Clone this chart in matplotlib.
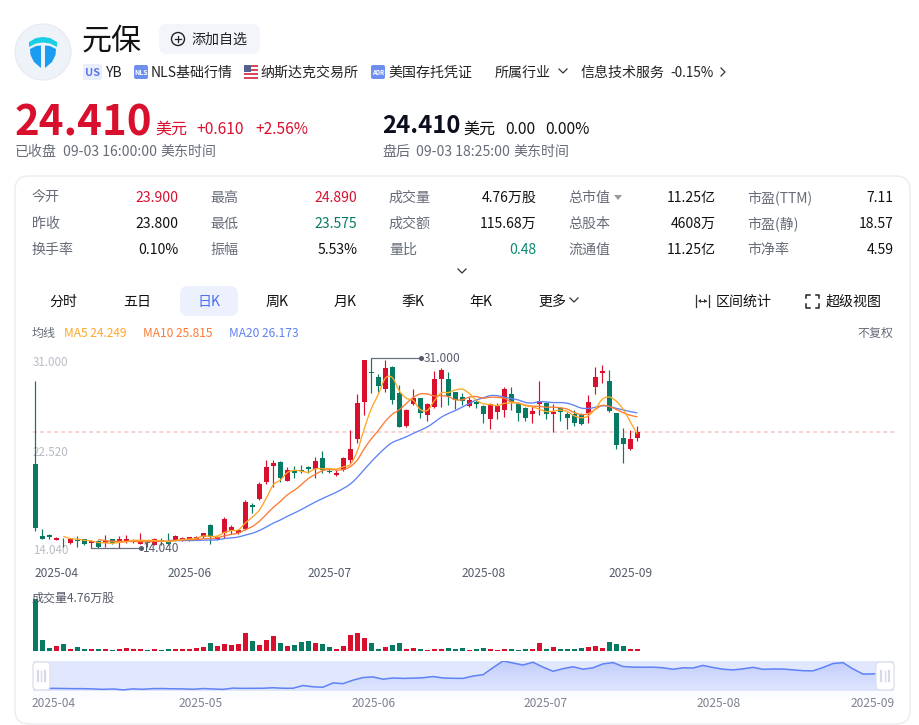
import numpy as np
import pandas as pd
import matplotlib
matplotlib.use("Agg")
import matplotlib.pyplot as plt
from matplotlib.patches import FancyBboxPatch, Circle, Polygon, Rectangle, PathPatch
from matplotlib.path import Path

plt.rcParams["font.family"] = ["Noto Sans CJK SC", "DejaVu Sans"]

RED = "#d90f2e"
GREEN = "#067a63"
MA5_COLOR = "#ffa726"
MA10_COLOR = "#ff7a33"
MA20_COLOR = "#5f82f5"
GRAY = "#666c78"
AXIS_GRAY = "#b9bcc6"

# daily candles
opens = [21.51, 15.11, 15.17, 14.75, 14.87, 14.49, 14.75, 14.82, 14.49, 14.64, 14.46, 14.82, 14.55, 14.69, 14.60,
         14.42, 14.55, 14.33, 14.75, 14.69, 14.73, 14.73, 14.75, 14.78, 15.02, 16.12, 14.82, 15.38, 15.56, 15.35,
         15.74, 17.88, 18.42, 19.90, 21.39, 21.75, 20.05, 20.89, 20.98, 21.27, 21.07, 22.08, 20.92, 20.59, 20.98,
         21.93, 23.77, 27.05, 29.76, 29.28, 28.24, 30.23, 27.91, 24.93, 26.90, 27.40, 25.95, 26.60, 29.13, 29.13,
         27.94, 27.55, 26.75, 27.11, 26.75, 25.56, 26.21, 26.36, 27.79, 26.90, 26.57, 25.98, 26.93, 26.96, 26.04,
         26.57, 25.98, 25.98, 25.92, 26.07, 28.45, 29.70, 28.92, 26.07, 23.86, 22.88, 23.90]
closes = [15.85, 14.87, 14.99, 14.91, 14.82, 14.82, 14.66, 14.42, 14.64, 14.10, 14.69, 14.46, 14.84, 14.87, 14.73,
          14.69, 14.46, 14.87, 14.64, 14.40, 15.14, 14.96, 15.02, 15.05, 15.35, 15.05, 15.05, 16.63, 15.89, 15.65,
          18.12, 17.70, 19.73, 21.24, 21.60, 20.29, 20.98, 20.74, 20.89, 21.12, 21.81, 21.01, 20.80, 20.74, 22.11,
          22.88, 26.96, 30.80, 29.64, 28.49, 30.08, 27.26, 24.87, 26.36, 27.46, 26.07, 26.87, 29.13, 29.90, 27.61,
          27.26, 27.20, 27.23, 26.90, 26.01, 26.87, 26.75, 28.24, 27.05, 26.07, 25.65, 26.27, 27.14, 25.98, 26.21,
          26.15, 25.68, 25.20, 25.11, 27.05, 29.34, 29.85, 26.24, 23.24, 23.36, 23.80, 24.41]
highs = [28.92, 15.71, 15.32, 15.05, 14.90, 14.91, 15.11, 14.87, 14.73, 14.75, 15.17, 14.87, 15.11, 15.20, 14.82,
         15.38, 14.75, 14.93, 14.91, 15.38, 15.20, 15.02, 15.05, 15.14, 15.41, 16.18, 15.11, 16.78, 16.09, 15.71,
         18.35, 18.03, 19.90, 21.90, 21.90, 21.78, 21.27, 21.36, 21.45, 21.36, 22.20, 22.70, 21.07, 21.01, 22.20,
         24.58, 27.79, 30.83, 31.00, 29.58, 30.83, 30.29, 28.59, 26.42, 28.21, 27.46, 26.96, 29.87, 30.08, 29.73,
         28.00, 27.91, 27.55, 27.26, 26.81, 26.96, 26.96, 28.42, 28.42, 27.11, 26.66, 26.72, 28.92, 27.11, 26.90,
         26.66, 26.21, 26.36, 26.07, 27.67, 30.23, 30.41, 29.93, 26.12, 24.73, 24.58, 24.89]
lows = [15.56, 14.82, 14.87, 14.73, 14.10, 14.40, 14.10, 14.31, 14.04, 14.06, 14.16, 14.40, 14.08, 14.46, 14.51,
        14.40, 14.16, 14.28, 14.31, 14.33, 14.69, 14.69, 14.69, 14.75, 14.91, 14.37, 14.75, 14.91, 15.26, 15.29,
        15.65, 17.14, 18.30, 19.76, 19.46, 19.96, 20.02, 20.32, 20.71, 20.71, 20.32, 20.71, 20.71, 20.47, 20.89,
        21.60, 23.45, 25.92, 27.91, 27.97, 28.00, 26.90, 24.81, 24.87, 26.81, 25.68, 25.41, 26.51, 26.60, 26.81,
        26.45, 26.81, 26.60, 26.54, 25.17, 24.70, 25.56, 25.77, 26.36, 25.38, 25.35, 25.17, 25.92, 25.59, 24.43,
        25.35, 24.70, 24.93, 25.02, 25.17, 27.79, 28.74, 26.15, 22.91, 21.60, 22.82, 23.575]
# volume in 万股
volumes = [105.4, 21.8, 6.1, 10.2, 15.0, 3.4, 8.2, 4.1, 4.1, 3.4, 3.4, 1.4, 3.4, 5.4, 3.4,
           3.4, 1.4, 3.4, 2.0, 3.4, 4.1, 4.1, 4.1, 5.4, 7.5, 15.6, 10.2, 14.3, 12.2, 14.3,
           36.0, 19.7, 12.2, 23.1, 30.6, 16.3, 9.5, 12.2, 19.0, 19.7, 15.6, 13.6, 8.2, 3.4, 10.9,
           32.6, 36.7, 25.8, 16.3, 4.1, 8.8, 12.2, 16.3, 4.8, 6.1, 3.4, 2.0, 4.8, 4.1, 5.4,
           3.4, 5.4, 2.7, 4.8, 6.1, 3.4, 1.4, 4.1, 4.1, 2.7, 4.1, 4.1, 16.3, 3.4, 7.5,
           3.4, 3.4, 3.4, 5.4, 8.2, 10.9, 5.4, 17.7, 13.6, 10.2, 4.1, 4.76]

last_price = 24.41
price_ticks = [31.0, 22.52, 14.04]
main_tick_pos = [3.1, 22.1, 42.1, 64.1, 85.1]
main_tick_labels = ["2025-04", "2025-06", "2025-07", "2025-08", "2025-09"]
nav_tick_pos = [2.1, 16.8, 34.05, 51.25, 68.55, 83.95]
nav_tick_labels = ["2025-04", "2025-05", "2025-06", "2025-07", "2025-08", "2025-09"]

stats_rows = [
    [("今开", "23.900", RED), ("最高", "24.890", RED), ("成交量", "4.76万股", "#111"), ("总市值", "11.25亿", "#111"), ("市盈(TTM)", "7.11", "#111")],
    [("昨收", "23.800", "#111"), ("最低", "23.575", GREEN), ("成交额", "115.68万", "#111"), ("总股本", "4608万", "#111"), ("市盈(静)", "18.57", "#111")],
    [("换手率", "0.10%", "#111"), ("振幅", "5.53%", "#111"), ("量比", "0.48", "#0a8a73"), ("流通值", "11.25亿", "#111"), ("市净率", "4.59", "#111")],
]
stats_y = [197, 223, 249]
stats_label_x = [32, 210, 389, 568, 747]
stats_value_x = [178, 357, 536, 715, 893]
tabs = [("分时", 63), ("五日", 137), ("日K", 209), ("周K", 277), ("月K", 345), ("季K", 413), ("年K", 481), ("更多", 552)]

W, H = 920, 725
fig = plt.figure(figsize=(W / 100, H / 100), dpi=100, facecolor="white")


def overlay(z):
    a = fig.add_axes([0, 0, 1, 1], zorder=z)
    a.set_xlim(0, W)
    a.set_ylim(H, 0)
    a.axis("off")
    return a


def chart_axes(left, top, right, bottom, z=2):
    a = fig.add_axes([left / W, 1 - bottom / H, (right - left) / W, (bottom - top) / H], zorder=z)
    a.patch.set_alpha(0)
    for s in a.spines.values():
        s.set_visible(False)
    return a


bg = overlay(0)
fg = overlay(5)


def put(x, y, s, px=14, color="#111", ha="left", weight="normal", ax=None):
    # the CJK face sits about a pixel high when centred
    (ax or bg).text(x, y + 1, s, fontsize=px * 0.72, color=color, ha=ha, va="center", weight=weight)


def rbox(x0, y0, x1, y1, r, fc, ec="none", lw=1, ax=None, z=1):
    (ax or bg).add_patch(FancyBboxPatch((x0 + r, y0 + r), x1 - x0 - 2 * r, y1 - y0 - 2 * r,
                                        boxstyle=f"round,pad={r},rounding_size={r}",
                                        fc=fc, ec=ec, lw=lw, zorder=z))


def chevron(x, y, size=4, down=True, color="#333"):
    if down:
        bg.plot([x - size, x, x + size], [y - size / 2, y + size / 2, y - size / 2], color=color, lw=0.9)
    else:
        bg.plot([x - size / 2, x + size / 2, x - size / 2], [y - size, y, y + size], color=color, lw=0.9)


def smooth_line(a, xs, ys, color):
    # echarts style smooth curve, catmull-rom segments turned into beziers
    xs = np.asarray(xs, float)
    ys = np.asarray(ys, float)
    verts = [(xs[0], ys[0])]
    codes = [Path.MOVETO]
    for k in range(len(xs) - 1):
        k0, k3 = max(k - 1, 0), min(k + 2, len(xs) - 1)
        c1 = (xs[k] + (xs[k + 1] - xs[k0]) / 6, ys[k] + (ys[k + 1] - ys[k0]) / 6)
        c2 = (xs[k + 1] - (xs[k3] - xs[k]) / 6, ys[k + 1] - (ys[k3] - ys[k]) / 6)
        verts += [c1, c2, (xs[k + 1], ys[k + 1])]
        codes += [Path.CURVE4] * 3
    a.add_patch(PathPatch(Path(verts, codes), fc="none", ec=color, lw=0.95, zorder=4))


# header -------------------------------------------------------------
bg.add_patch(Circle((43, 52), 28, fc="#eef2f9", ec="#e6e9f0", lw=0.8))
bg.add_patch(Polygon([(29, 42), (36, 38), (43, 37), (50, 38), (57, 42), (57, 47), (50, 43.5), (43, 42.5), (36, 43.5), (29, 47)],
                     fc="#19cfe6", ec="none"))
bg.add_patch(Polygon([(30, 49), (36, 46), (41, 45.5), (41, 68), (34, 62), (30.5, 55)], fc="#1a9cf0", ec="none"))
bg.add_patch(Polygon([(56, 49), (50, 46), (45, 45.5), (45, 68), (52, 62), (55.5, 55)], fc="#1a9cf0", ec="none"))
put(82, 40, "元保", 30, "#111")
rbox(159, 24, 260, 54, 8, "#f4f5fa")
bg.add_patch(Circle((178, 39), 6.5, fc="none", ec="#222", lw=1))
bg.plot([175, 181], [39, 39], color="#222", lw=0.9)
bg.plot([178, 178], [36, 42], color="#222", lw=0.9)
put(191, 39, "添加自选", 14, "#222")

rbox(83, 64, 102, 80, 2, "#e9eefc")
put(92.5, 72, "US", 11, "#5a78e8", ha="center", weight="bold")
put(106, 72, "YB", 14, "#222")
rbox(134, 65, 148, 79, 2, "#6f8ff0")
put(141, 71.5, "NLS", 7, "white", ha="center", weight="bold")
put(151, 72, "NLS基础行情", 14, "#222")
bg.add_patch(Rectangle((244, 65), 14, 14, fc="white", ec="none"))
for row in range(0, 7, 2):
    bg.add_patch(Rectangle((244, 65 + row * 2), 14, 2, fc="#d9475c", ec="none"))
bg.add_patch(Rectangle((244, 65), 7, 7, fc="#56608f", ec="none"))
put(260, 72, "纳斯达克交易所", 14, "#222")
rbox(371, 65, 385, 79, 2, "#6f8ff0")
put(378, 71.5, "ADR", 6, "white", ha="center", weight="bold")
put(388, 72, "美国存托凭证", 14, "#222")
put(495, 72, "所属行业", 14, "#222")
chevron(563, 71)
put(581, 72, "信息技术服务", 14, "#222")
put(670, 72, "-0.15%", 13.5, "#222")
chevron(723, 72, down=False)

put(15, 122, "24.410", 42, RED, weight="bold")
put(155, 128, "美元", 16, RED)
put(196, 128, "+0.610", 15.5, RED, weight="medium")
put(255, 128, "+2.56%", 15.5, RED, weight="medium")
put(15, 151, "已收盘", 14, GRAY)
put(63, 151, "09-03 16:00:00", 14, GRAY)
put(160, 151, "美东时间", 14, GRAY)

put(382, 125, "24.410", 24, "#0b0f1d", weight="bold")
put(463, 128, "美元", 16, "#111")
put(505, 128, "0.00", 15.5, "#111", weight="medium")
put(545, 128, "0.00%", 15.5, "#111", weight="medium")
put(382, 151, "盘后", 14, GRAY)
put(416, 151, "09-03 18:25:00", 14, GRAY)
put(513, 151, "美东时间", 14, GRAY)

# card with stats table and tabs --------------------------------------
rbox(15, 176, 910, 724, 14, "white", ec="#ececf0", z=0)
for y, row in zip(stats_y, stats_rows):
    for lx, vx, (label, value, color) in zip(stats_label_x, stats_value_x, row):
        put(lx, y, label, 14, GRAY)
        put(vx + 0.5, y, value, 14, color, ha="right", weight="medium")
bg.add_patch(Polygon([(614, 195), (622, 195), (618, 200)], fc="#999", ec="none"))
chevron(462, 271)

rbox(180, 286, 238, 316, 8, "#edf1fd")
for name, cx in tabs:
    put(cx, 301, name, 14, "#4a6ff0" if name == "日K" else "#111", ha="center")
chevron(574, 300)
bg.plot([696, 696], [295, 307], color="#333", lw=0.9)
bg.plot([709, 709], [295, 307], color="#333", lw=0.9)
bg.plot([699, 706], [301, 301], color="#333", lw=0.8)
bg.add_patch(Polygon([(698, 301), (701, 299), (701, 303)], fc="#333", ec="none"))
bg.add_patch(Polygon([(707, 301), (704, 299), (704, 303)], fc="#333", ec="none"))
put(716, 301, "区间统计", 14, "#111")
for sx, sy in [(-1, -1), (1, -1), (-1, 1), (1, 1)]:
    cx, cy = 813 + sx * 6.5, 301 + sy * 6.5
    bg.plot([cx - sx * 3.5, cx, cx], [cy, cy, cy - sy * 3.5], color="#222", lw=1.1)
put(826, 301, "超级视图", 14, "#111")

put(32, 332, "均线", 12, GRAY)
put(64, 332, "MA5 24.249", 12, MA5_COLOR)
put(143, 332, "MA10 25.815", 12, MA10_COLOR)
put(229, 332, "MA20 26.173", 12, MA20_COLOR)
put(894, 332, "不复权", 12, GRAY, ha="right")

# candles --------------------------------------------------------------
n = len(closes)
idx = np.arange(n)
o, c, h, l = map(np.array, (opens, closes, highs, lows))
up = c >= o
colors = np.where(up, RED, GREEN)
X0, DX = 35.3, 7.0
LEFT, RIGHT = 33, 895

ax = chart_axes(LEFT, 350, RIGHT, 560)
ax.set_xlim((LEFT - X0) / DX, (RIGHT - X0) / DX)
PX_PER_UNIT = 11.2
ax.set_ylim(14.04 - 12 / PX_PER_UNIT, 14.04 + 198 / PX_PER_UNIT)
ax.axhline(last_price, color="#f9c4c4", lw=1.1, dashes=(2.6, 2.0), zorder=1)
ax.vlines(idx, l, h, colors=colors, lw=0.85, zorder=2)
ax.bar(idx, np.abs(c - o), bottom=np.minimum(o, c), width=0.72, color=colors, zorder=3)

close_series = pd.Series(closes)
for win, col in [(20, MA20_COLOR), (10, MA10_COLOR), (5, MA5_COLOR)]:
    ma = close_series.rolling(win).mean().dropna()
    smooth_line(ax, ma.index.values, ma.values, col)

ax.set_xticks(main_tick_pos, main_tick_labels, fontsize=8.6, color="#555b6b")
ax.tick_params(axis="x", length=0, pad=5)
ax.set_yticks([])

# price labels sit inside the plot, left aligned
for val, ty in zip(price_ticks, [361, 451, 550]):
    put(33, ty, f"{val:.3f}", 11.6, AXIS_GRAY)

# high / low markers
hi_i, lo_i = int(np.argmax(h)), int(np.argmin(l))
for i, val in [(hi_i, h[hi_i]), (lo_i, l[lo_i])]:
    ax.plot([i, i + 50 / DX], [val, val], color="#6d7080", lw=0.9, zorder=5)
    ax.plot([i + 50 / DX], [val], "o", ms=2.6, color="#555a68", zorder=5)
    ax.text(i + 52 / DX, val - 0.05, f"{val:.3f}", fontsize=8.6, color="#555b6b", va="center", zorder=6)

# volume --------------------------------------------------------------
vax = chart_axes(LEFT, 590, RIGHT, 651)
vax.set_xlim(ax.get_xlim())
vax.set_ylim(0, 124.4)
vax.bar(idx, volumes, width=0.72, color=colors)
vax.set_xticks([])
vax.set_yticks([])
put(32, 597, "成交量4.76万股", 12, "#555b66", ax=fg)

# range navigator ------------------------------------------------------
NAV_L, NAV_R, NAV_T, NAV_B = 33, 894, 661, 691
bg.add_patch(Rectangle((NAV_L, NAV_T), NAV_R - NAV_L, NAV_B - NAV_T, fc="#e1e7fd", ec="none", zorder=1))
bg.add_patch(Rectangle((NAV_L, NAV_B), NAV_R - NAV_L, 8, fc="#fbfcff", ec="none", zorder=1))
nax = chart_axes(NAV_L, NAV_T, NAV_R, NAV_B)
nax.set_xlim(0, 86.1)
nax.set_ylim(13.46, 30.8)
grad = np.linspace(0, 1, 64).reshape(-1, 1)
cmap = matplotlib.colors.LinearSegmentedColormap.from_list("nav", ["#c2cefb", "#dfe6fe"])
img = nax.imshow(grad, cmap=cmap, extent=[0, 86.1, 13.46, 30.8], aspect="auto", origin="upper", zorder=1)
fill_poly = Polygon(np.vstack([[0, 13.46], np.column_stack([idx, closes]), [86, 13.46]]), transform=nax.transData, fc="none", ec="none")
nax.add_patch(fill_poly)
img.set_clip_path(fill_poly)
nax.plot(idx, closes, color="#5f82f5", lw=1.1, zorder=2)
nax.set_xticks(nav_tick_pos, nav_tick_labels, fontsize=8.6, color="#7d8190")
nax.tick_params(axis="x", length=0, pad=4)
nax.set_yticks([])

for x0, x1 in [(33, 50), (876, 894)]:
    rbox(x0, 662, x1, 690, 4.5, "white", ec="#dfe2ee", ax=fg, z=3)
    mid = (x0 + x1) / 2
    for dx, lw in [(-3.8, 1.6), (0, 1.0), (3.8, 1.6)]:
        fg.plot([mid + dx, mid + dx], [671, 681], color="#d5d9ec", lw=lw, zorder=4)

fig.savefig("out.png", dpi=100)
